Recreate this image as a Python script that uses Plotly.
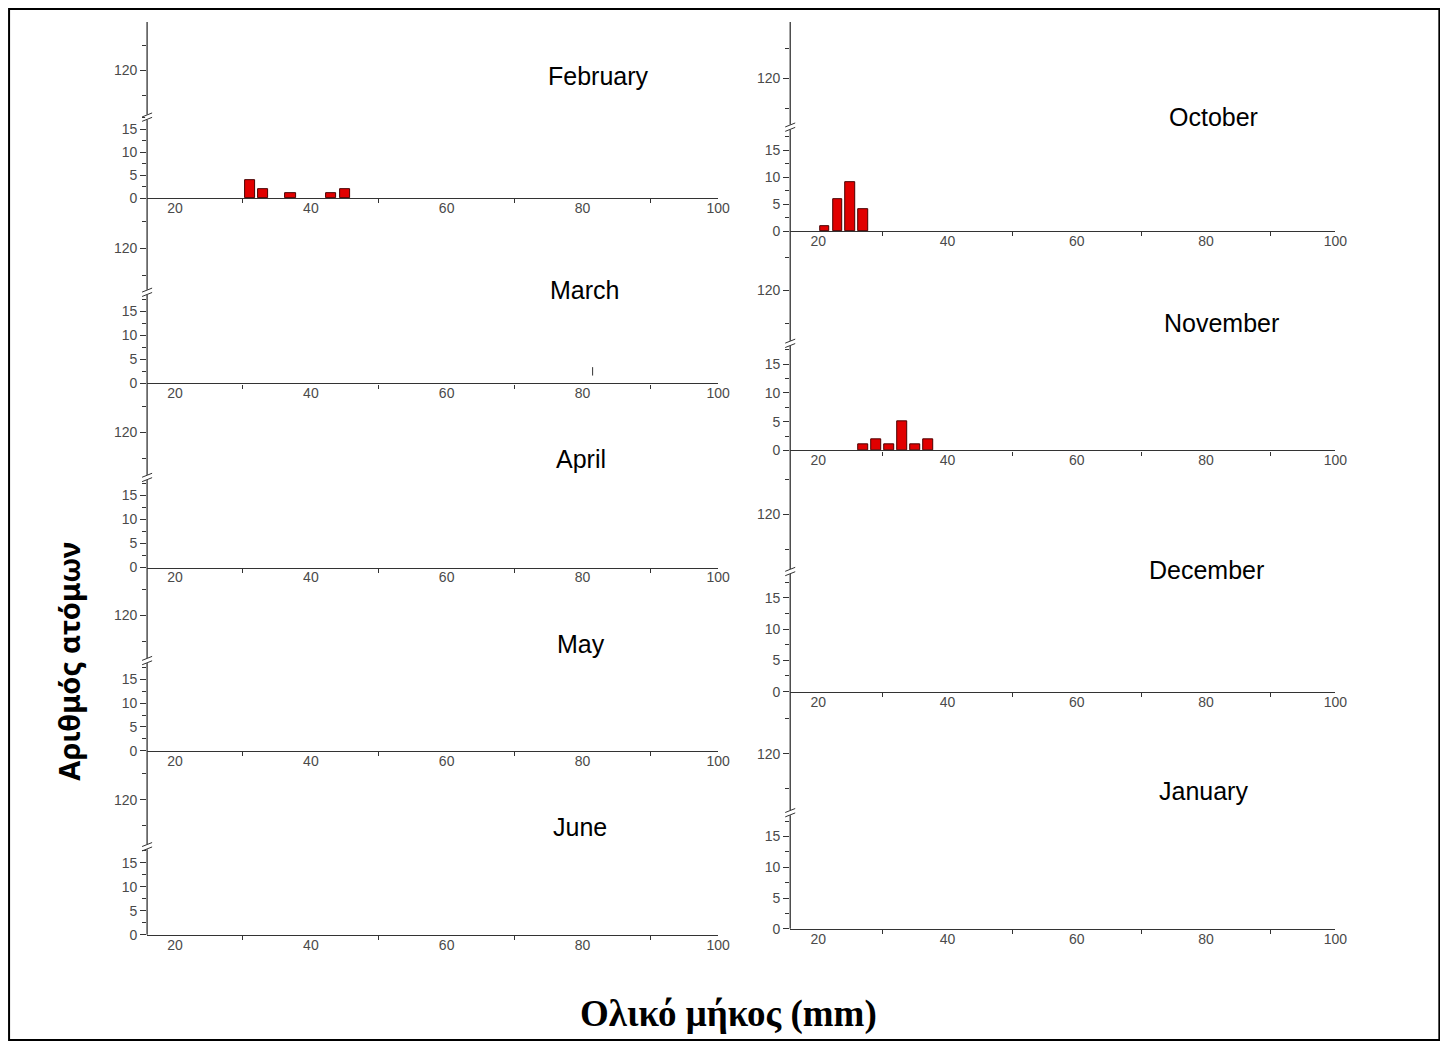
import plotly.graph_objects as go

# ---------------- data ----------------
months_left = ["February", "March", "April", "May", "June"]
months_right = ["October", "November", "December", "January"]

feb_len = [31, 33, 37, 43, 45]
feb_n = [4, 2, 1, 1, 2]
oct_len = [21, 23, 25, 27]
oct_n = [1, 6, 9, 4]
nov_len = [27, 29, 31, 33, 35, 37]
nov_n = [1, 2, 1, 5, 1, 2]
mar_mark_len = [81.5]
mar_mark_n = [2.5]

x_ticks = [20, 40, 60, 80, 100]
x_minor = [30, 50, 70, 90]
y_ticks_low = [0, 5, 10, 15]
y_ticks_high = [120]
y_minor_high = [110, 130]

series = {
    "February": (feb_len, feb_n),
    "October": (oct_len, oct_n),
    "November": (nov_len, nov_n),
}

# ---------------- layout geometry (target window pixels) ----------------
OFF = 8                       # default page body margin
SC = 0.9915                   # observed capture scale
W = round(1448 / SC - 2 * OFF)
H = round(1045 / SC - 2 * OFF)
def px(x):
    return (x / SC - OFF) / W
def py(y):
    return 1 - (y / SC - OFF) / H

# column: (axis_x_px, right_px, x_at_20_px)
cols = {
    "L": (147, 718, 175),
    "R": (790, 1335, 818),
}
# panel: name, col, zero_px, lower px/unit, break_px, top_px, y120_px, upper px/unit, title_x, title_y
panels = [
    ("February", "L", 198, 4.6, 117, 22, 70, 2.5, 598, 76),
    ("March", "L", 383, 4.8, 292, 210, 248, 2.7, 584, 290),
    ("April", "L", 567, 4.8, 477, 395, 432, 2.6, 581, 459),
    ("May", "L", 750, 4.75, 660, 579, 615, 2.6, 581, 643),
    ("June", "L", 934, 4.8, 846, 762, 799, 2.6, 580, 826),
    ("October", "R", 231, 5.4, 127, 22, 78, 3.0, 1213, 117),
    ("November", "R", 450, 5.75, 343, 255, 290, 3.3, 1221, 323),
    ("December", "R", 691, 6.25, 571, 470, 514, 3.5, 1206, 569),
    ("January", "R", 928, 6.15, 812, 715, 753, 3.5, 1203, 790),
]

AX = "#333333"
TXT = "#4a4a4a"
tickfont = dict(family="Liberation Sans, Arial, sans-serif", size=14, color=TXT)

fig = go.Figure()
layout = dict(
    width=W, height=H, autosize=False,
    margin=dict(l=0, r=0, t=0, b=0),
    paper_bgcolor="white", plot_bgcolor="rgba(0,0,0,0)",
    showlegend=False, bargap=0,
)
shapes = []
annotations = []

for i, (name, col, zero, ppu, brk, top, y120, ppu_hi, tx, ty) in enumerate(panels):
    n = i + 1
    xa = f"xaxis{n if n > 1 else ''}"
    xr = f"x{n if n > 1 else ''}"
    ylo_n = 2 * n - 1
    yhi_n = 2 * n
    ya_lo = f"yaxis{ylo_n if ylo_n > 1 else ''}"
    yr_lo = f"y{ylo_n if ylo_n > 1 else ''}"
    ya_hi = f"yaxis{yhi_n}"
    yr_hi = f"y{yhi_n}"

    axx, rightx, x20 = cols[col]
    ppx = (rightx - x20) / 80.0
    xmin = 20 - (x20 - axx) / ppx

    layout[xa] = dict(
        domain=[px(axx), px(rightx)], range=[xmin, 100], anchor=yr_lo,
        showline=True, linecolor=AX, linewidth=1.3,
        tickmode="array", tickvals=x_ticks, ticks="", showgrid=False,
        zeroline=False, tickfont=tickfont, ticklabelstandoff=-3,
        minor=dict(tickmode="array", tickvals=x_minor, ticks="outside",
                   ticklen=4, tickwidth=1, tickcolor=AX, showgrid=False),
        fixedrange=True,
    )
    layout[ya_lo] = dict(
        domain=[py(zero), py(brk)], range=[0, (zero - brk) / ppu], anchor=xr,
        showline=False, tickmode="array", tickvals=y_ticks_low,
        ticks="outside", ticklen=6, tickwidth=1, tickcolor=AX,
        showgrid=False, zeroline=False, tickfont=tickfont,
        minor=dict(tick0=0, dtick=2.5, ticks="outside", ticklen=4,
                   tickwidth=1, tickcolor=AX, showgrid=False),
        fixedrange=True,
    )
    layout[ya_hi] = dict(
        domain=[py(brk), py(top)],
        range=[120 - (brk - y120) / ppu_hi, 120 + (y120 - top) / ppu_hi],
        anchor=xr, showline=False, tickmode="array", tickvals=y_ticks_high,
        ticks="outside", ticklen=6, tickwidth=1, tickcolor=AX,
        showgrid=False, zeroline=False, tickfont=tickfont,
        minor=dict(tickmode="array", tickvals=y_minor_high, ticks="outside",
                   ticklen=4, tickwidth=1, tickcolor=AX, showgrid=False),
        fixedrange=True,
    )

    # placeholder (empty) traces so every sub-axis is drawn
    fig.add_trace(go.Scatter(x=[None], y=[None], xaxis=xr, yaxis=yr_lo,
                             mode="markers", hoverinfo="skip"))
    fig.add_trace(go.Scatter(x=[None], y=[None], xaxis=xr, yaxis=yr_hi,
                             mode="markers", hoverinfo="skip"))

    if name in series:
        xs, ys = series[name]
        fig.add_trace(go.Bar(
            x=xs, y=ys, width=1.5, xaxis=xr, yaxis=yr_lo,
            marker=dict(color="#e10000", line=dict(color="#4a0000", width=1)),
        ))
    if name == "March":
        fig.add_trace(go.Scatter(
            x=mar_mark_len, y=mar_mark_n, xaxis=xr, yaxis=yr_lo, mode="markers",
            marker=dict(symbol="line-ns-open", size=6, color=AX,
                        line=dict(color=AX, width=1)),
        ))

    # break marks on the y axis
    shapes.append(dict(type="line", xref="paper", yref="paper",
                       x0=px(axx), x1=px(axx), y0=py(brk + 2.5), y1=py(brk - 2.5),
                       line=dict(color="white", width=4)))
    for off in (-2.2, 2.2):
        shapes.append(dict(type="line", xref="paper", yref="paper",
                           x0=px(axx - 5), x1=px(axx + 5),
                           y0=py(brk + off + 2), y1=py(brk + off - 2),
                           line=dict(color=AX, width=1)))

    annotations.append(dict(text=name, xref="paper", yref="paper",
                            x=px(tx), y=py(ty), showarrow=False,
                            xanchor="center", yanchor="middle",
                            font=dict(family="Liberation Sans, Arial, sans-serif",
                                      size=25, color="black")))

# continuous vertical axis lines per column
shapes.insert(0, dict(type="line", xref="paper", yref="paper",
                      x0=px(147), x1=px(147), y0=py(22), y1=py(934),
                      line=dict(color=AX, width=1.3), layer="below"))
shapes.insert(0, dict(type="line", xref="paper", yref="paper",
                      x0=px(790), x1=px(790), y0=py(22), y1=py(928),
                      line=dict(color=AX, width=1.3), layer="below"))
# outer frame
shapes.append(dict(type="rect", xref="paper", yref="paper",
                   x0=px(9), x1=px(1439), y0=py(1039), y1=py(9),
                   line=dict(color="black", width=2)))

annotations.append(dict(text="<b>Αριθμός ατόμων</b>", xref="paper", yref="paper",
                        x=px(69), y=py(661), showarrow=False, textangle=-90,
                        xanchor="center", yanchor="middle",
                        font=dict(family="Noto Sans, Open Sans, sans-serif",
                                  size=29, color="black")))
annotations.append(dict(text="<b>Ολικό μήκος (mm)</b>", xref="paper", yref="paper",
                        x=px(728), y=py(1013), showarrow=False,
                        xanchor="center", yanchor="middle",
                        font=dict(family="Liberation Serif, Times New Roman, serif",
                                  size=37, color="black")))

layout["shapes"] = shapes
layout["annotations"] = annotations
fig.update_layout(**layout)
fig.write_html("out.html")
